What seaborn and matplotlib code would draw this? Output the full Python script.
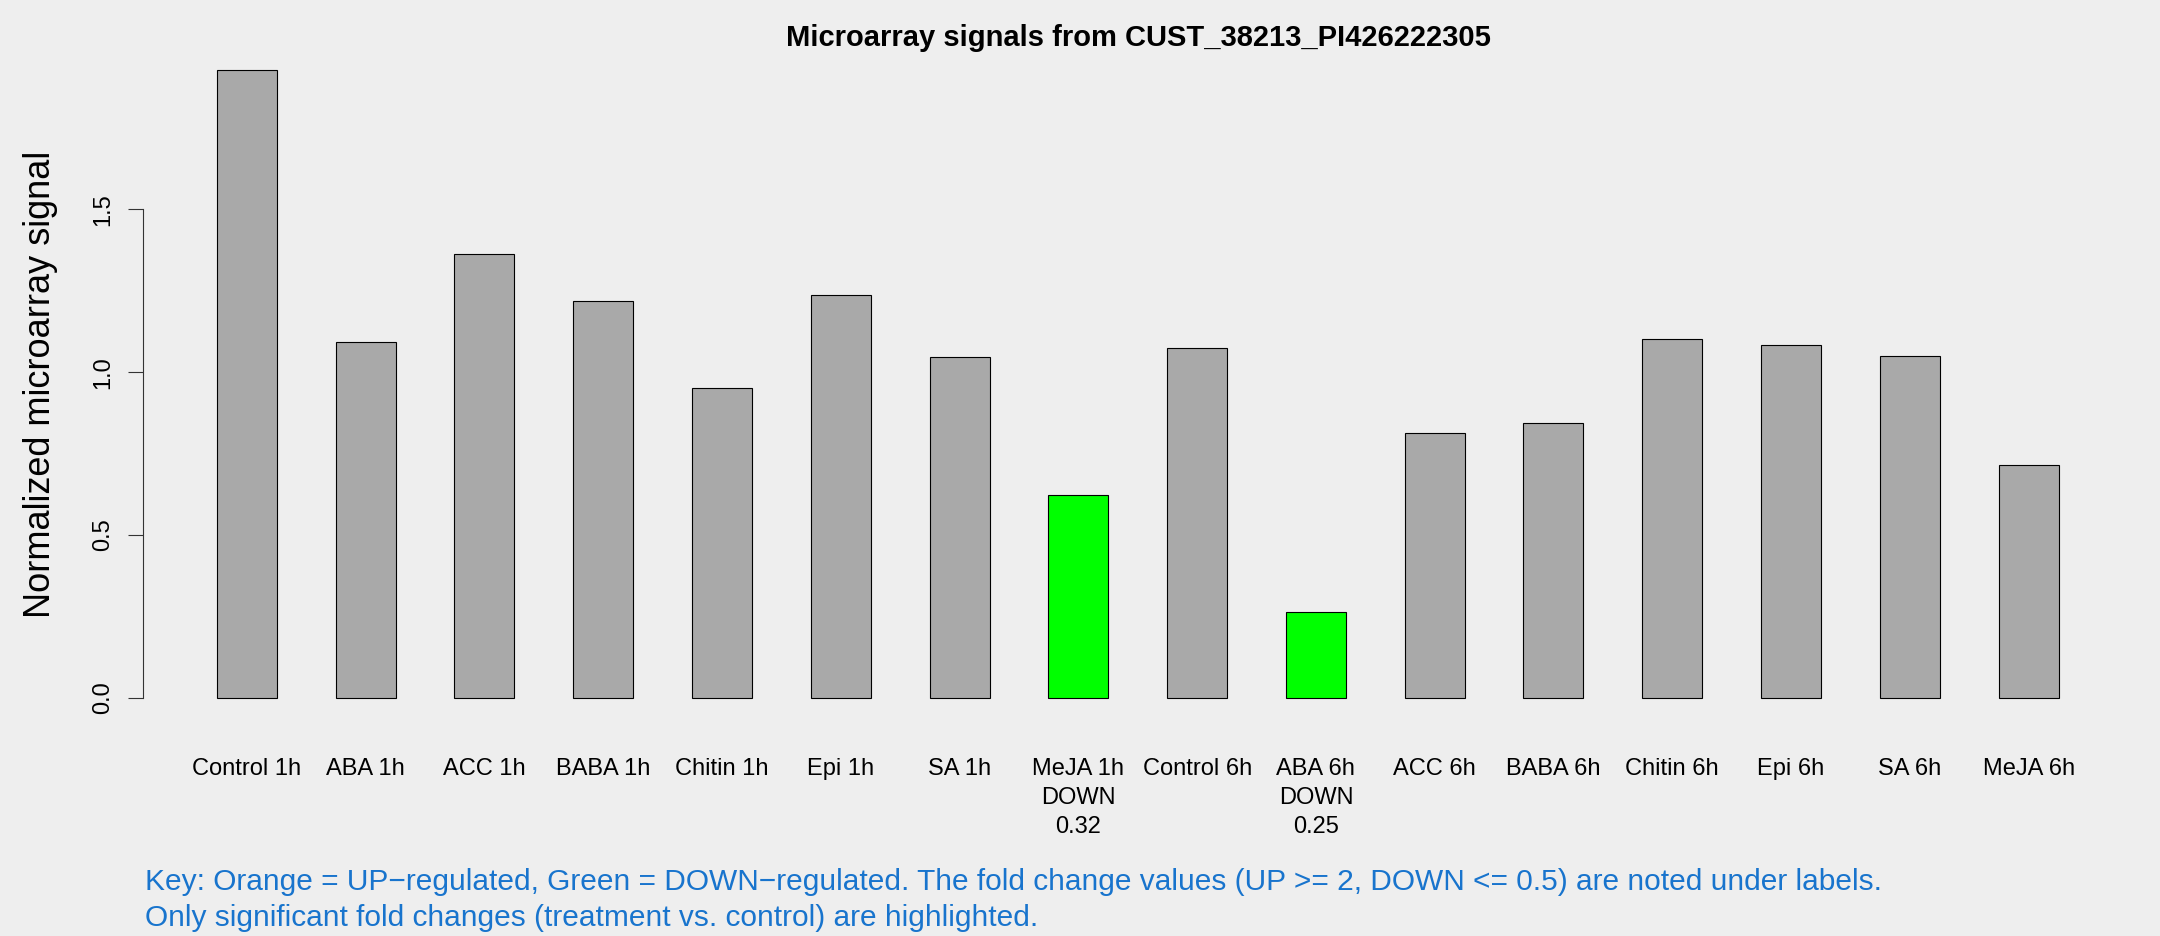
import pandas as pd
import numpy as np
import matplotlib
matplotlib.use('Agg')
import matplotlib.pyplot as plt
import seaborn as sns

# Данные: образцы, сигналы и подписи
samples = ['Control 1h', 'ABA 1h', 'ACC 1h', 'BABA 1h', 'Chitin 1h', 'Epi 1h', 'SA 1h', 'MeJA 1h',
           'Control 6h', 'ABA 6h', 'ACC 6h', 'BABA 6h', 'Chitin 6h', 'Epi 6h', 'SA 6h', 'MeJA 6h']
signal = [1.928, 1.093, 1.364, 1.220, 0.953, 1.237, 1.047, 0.623,
          1.076, 0.263, 0.814, 0.843, 1.102, 1.085, 1.051, 0.716]
regulation = ['none'] * 7 + ['DOWN', 'none', 'DOWN'] + ['none'] * 6
fold_change = ['', '', '', '', '', '', '', '0.32', '', '0.25', '', '', '', '', '', '']
y_ticks = [0.0, 0.5, 1.0, 1.5]

title = 'Microarray signals from CUST_38213_PI426222305'
y_label = 'Normalized microarray signal'
key_lines = ['Key: Orange = UP\u2212regulated, Green = DOWN\u2212regulated. The fold change values (UP >= 2, DOWN <= 0.5) are noted under labels.',
             'Only significant fold changes (treatment vs. control) are highlighted.']

colors = {'none': '#A9A9A9', 'DOWN': '#00FF00', 'UP': '#FFA500'}
bg = '#EEEEEE'

data = pd.DataFrame({'sample': samples, 'signal': signal, 'reg': regulation})

sns.set_style('white')
plt.rcParams['font.family'] = ['Liberation Sans', 'DejaVu Sans']
plt.rcParams['text.color'] = 'black'
plt.rcParams['xtick.color'] = 'black'
plt.rcParams['ytick.color'] = 'black'

fig = plt.figure(figsize=(21.6, 9.36), dpi=100, facecolor=bg)
ax = fig.add_axes([143 / 2160, 1 - 723 / 936, 1989.5 / 2160, 678 / 936])
ax.set_facecolor(bg)

sns.barplot(data=data, x='sample', y='signal', hue='reg', palette=colors, dodge=False,
            width=0.505, saturation=1, edgecolor='black', linewidth=0.8, legend=False, ax=ax)

ax.set_xlim(-0.875, 15.875)
ax.set_ylim(-0.077, 2.005)

# Подписи по оси X с пометками DOWN / UP
labels = []
for s, r, f in zip(samples, regulation, fold_change):
    labels.append(s if r == 'none' else f'{s}\n{r}\n{f}')
ax.set_xticks(range(len(samples)))
ax.set_xticklabels(labels, fontsize=17, linespacing=1.42)
ax.tick_params(axis='x', bottom=False, length=0, pad=25, labelcolor='black')

ax.set_yticks(y_ticks)
ax.set_yticklabels([f'{v:.1f}' for v in y_ticks], rotation=90, va='center', fontsize=17)
ax.tick_params(axis='y', left=True, length=11, width=0.8, direction='out', pad=10,
               color='#333333', labelcolor='black')

for side in ['top', 'right', 'bottom']:
    ax.spines[side].set_visible(False)
ax.spines['left'].set_bounds(0, 1.5)
ax.spines['left'].set_color('#333333')
ax.spines['left'].set_linewidth(0.8)
ax.set_xlabel('')
ax.set_ylabel('')

fig.text(41 / 2160, 1 - 384 / 936, y_label, rotation=90, ha='center', va='center', fontsize=26)
fig.text(1138 / 2160, 1 - 38 / 936, title, ha='center', va='center', fontsize=21, fontweight='bold')
fig.text(145 / 2160, 1 - 882 / 936, key_lines[0], ha='left', va='center', fontsize=21.5, color='#1874CD')
fig.text(145 / 2160, 1 - 918 / 936, key_lines[1], ha='left', va='center', fontsize=21.5, color='#1874CD')

fig.savefig('out.png', dpi=100, facecolor=bg)
